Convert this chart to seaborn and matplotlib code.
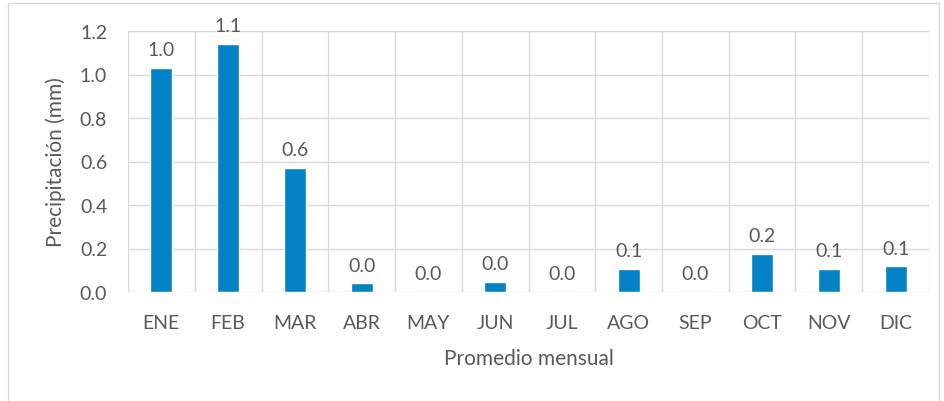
import matplotlib
matplotlib.use("Agg")
import matplotlib.pyplot as plt
import seaborn as sns
import pandas as pd
from matplotlib.patches import Rectangle

months = ["ENE", "FEB", "MAR", "ABR", "MAY", "JUN", "JUL", "AGO", "SEP", "OCT", "NOV", "DIC"]
values = [1.03, 1.14, 0.57, 0.04, 0.0, 0.045, 0.0, 0.105, 0.0, 0.175, 0.105, 0.118]
labels = ["1.0", "1.1", "0.6", "0.0", "0.0", "0.0", "0.0", "0.1", "0.0", "0.2", "0.1", "0.1"]
yticks = [0.0, 0.2, 0.4, 0.6, 0.8, 1.0, 1.2]

sns.set_theme(style="white")
plt.rcParams['font.family'] = ['Lato', 'DejaVu Sans']

df = pd.DataFrame({"mes": months, "pp": values})
txt = "#595959"
grid = "#D9D9D9"

fig = plt.figure(figsize=(9.45, 4.02), dpi=100)
ax = fig.add_axes([128/945, 1 - 293/402, 801/945, 261/402])
sns.barplot(data=df, x="mes", y="pp", color="#0482C8", width=0.33, ax=ax, zorder=3,
            saturation=1)
ax.set_ylim(0, 1.2)
ax.set_xlim(-0.5, 11.5)
ax.set_yticks(yticks)
ax.set_yticklabels([f"{t:.1f}" for t in yticks])
for i in range(13):
    ax.axvline(i - 0.5, color=grid, lw=1, zorder=1)
for t in yticks:
    ax.axhline(t, color=grid, lw=1, zorder=1)
for s in ax.spines.values():
    s.set_visible(False)
ax.tick_params(axis="both", length=0, colors=txt, labelsize=14)
ax.tick_params(axis="y", pad=15)
ax.tick_params(axis="x", pad=16)
for i, (v, lab) in enumerate(zip(values, labels)):
    ax.annotate(lab, (i, v), xytext=(0, 7), textcoords="offset points", ha="center",
                va="bottom", color=txt, fontsize=14)
ax.set_xlabel("Promedio mensual", color=txt, fontsize=15, labelpad=12)
ax.set_ylabel("Precipitación (mm)", color=txt, fontsize=15, labelpad=10)

fig.patches.append(Rectangle((8/945, -0.05), 931/945, 1 - 4/402 + 0.05, transform=fig.transFigure,
                             fill=False, edgecolor="#D9D9D9", lw=1))
fig.savefig("out.png", dpi=100)
